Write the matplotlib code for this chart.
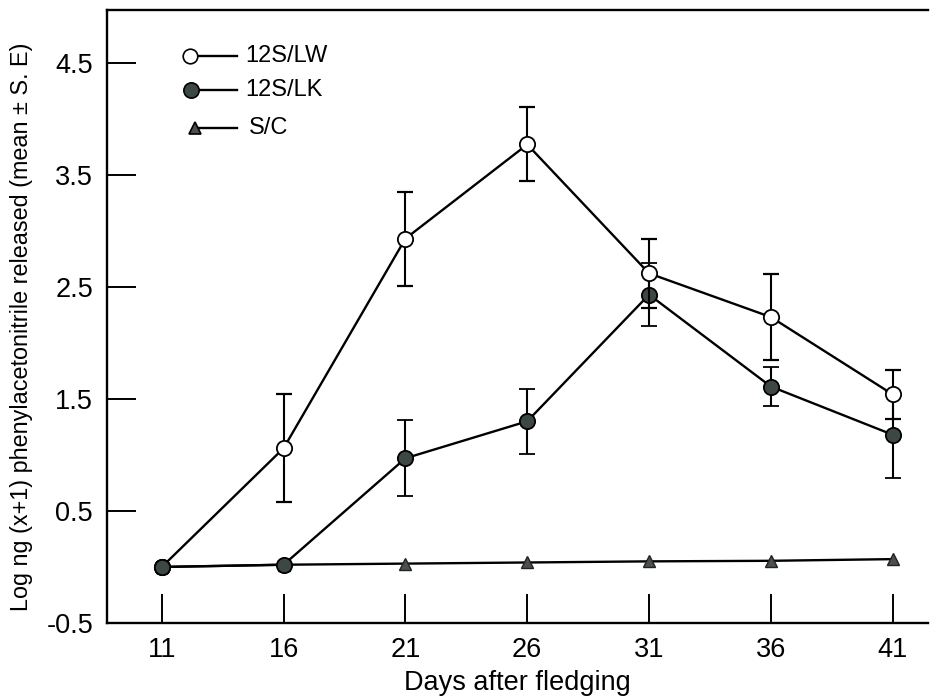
import matplotlib
matplotlib.use("Agg")
import matplotlib.pyplot as plt
import numpy as np

plt.rcParams['font.family'] = ['Liberation Sans', 'DejaVu Sans']

days = [11, 16, 21, 26, 31, 36, 41]

lw_mean = [0.0, 1.06, 2.93, 3.77, 2.62, 2.23, 1.54]
lw_err = [0.0, 0.48, 0.42, 0.33, 0.31, 0.38, 0.22]

lk_mean = [0.0, 0.02, 0.97, 1.30, 2.43, 1.61, 1.18]
lk_err = [0.0, 0.0, 0.34, 0.29, 0.28, 0.17, 0.39]

sc_mean = [0.0, 0.02, 0.03, 0.04, 0.05, 0.055, 0.07]

xticks = [11, 16, 21, 26, 31, 36, 41]
yticks = [-0.5, 0.5, 1.5, 2.5, 3.5, 4.5]
ytick_labels = ['-0.5', '0.5', '1.5', '2.5', '3.5', '4.5']

series_names = ['12S/LW', '12S/LK', 'S/C']

W, H = 932, 697
fig = plt.figure(figsize=(W / 100, H / 100), dpi=100)
ax = fig.add_axes([107 / W, 1 - 623 / H, (928 - 107) / W, (623 - 10) / H])

dark = '#3d4744'
tri = '#4a4f50'

# S/C
ax.plot(days, sc_mean, color='black', lw=1.7, marker='^', markersize=9,
        markerfacecolor=tri, markeredgecolor='#222222', markeredgewidth=1.0, zorder=3)

# 12S/LK
ax.errorbar(days, lk_mean, yerr=lk_err, color='black', lw=1.7, elinewidth=1.5,
            capsize=6, capthick=1.6, marker='o', markersize=11,
            markerfacecolor=dark, markeredgecolor='black', markeredgewidth=1.3, zorder=4)

# 12S/LW
ax.errorbar(days[1:], lw_mean[1:], yerr=lw_err[1:], color='black', lw=1.7, elinewidth=1.5,
            capsize=6, capthick=1.6, fmt='none', zorder=5)
ax.plot(days, lw_mean, color='black', lw=1.7, marker='o', markersize=11,
        markerfacecolor='white', markeredgecolor='black', markeredgewidth=1.3, zorder=6)
# filled LK dot on top at day 11, as in the reference
ax.plot(days[0], lk_mean[0], linestyle='none', marker='o', markersize=11,
        markerfacecolor=dark, markeredgecolor='black', markeredgewidth=1.3, zorder=7)

ax.set_xlim(8.75, 42.45)
ax.set_ylim(-0.5, 4.97)
ax.set_xticks(xticks)
ax.set_xticklabels([str(t) for t in xticks])
ax.set_yticks(yticks)
ax.set_yticklabels(ytick_labels)

ax.tick_params(axis='both', direction='in', length=21, width=1.4, labelsize=19.5, colors='black')
ax.tick_params(axis='x', pad=10)
ax.tick_params(axis='y', pad=10)

for s in ['left', 'bottom', 'top']:
    ax.spines[s].set_linewidth(1.7)
ax.spines['right'].set_visible(False)

ax.set_xlabel('Days after fledging', fontsize=19.5, labelpad=5)
ax.set_ylabel('Log ng (x+1) phenylacetonitrile released (mean ± S. E)', fontsize=16.8)
ax.yaxis.set_label_coords(-0.090, 0.483)

# legend drawn manually (marker at left end of line)
leg_rows = [0.925, 0.870, 0.808]
styles = [dict(marker='o', markersize=10.5, markerfacecolor='white'),
          dict(marker='o', markersize=11, markerfacecolor=dark),
          dict(marker='^', markersize=9, markerfacecolor=tri)]
x_start = [0.101, 0.102, 0.107]
for name, yy, st, xs in zip(series_names, leg_rows, styles, x_start):
    ax.plot([xs, 0.158], [yy, yy], color='black', lw=1.7, transform=ax.transAxes, clip_on=False)
    ax.plot([xs], [yy], linestyle='none', markeredgecolor='black', markeredgewidth=1.2,
            transform=ax.transAxes, clip_on=False, **st)
    ax.text(0.168 if name != 'S/C' else 0.173, yy, name, fontsize=17, va='center', ha='left',
            transform=ax.transAxes)

fig.savefig('out.png', dpi=100)
